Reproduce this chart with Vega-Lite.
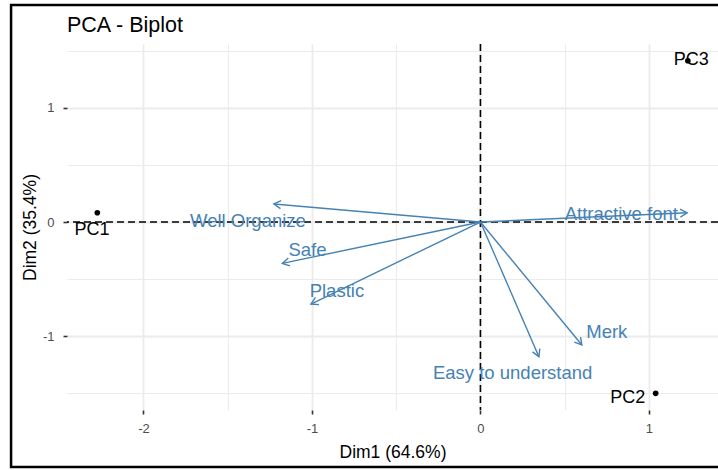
{
  "$schema": "https://vega.github.io/schema/vega-lite/v6.json",
  "width": 651,
  "height": 366,
  "autosize": "none",
  "padding": {"left": 67, "top": 44, "right": 0, "bottom": 60},
  "background": "white",
  "title": {
    "text": "PCA - Biplot",
    "anchor": "start",
    "frame": "group",
    "font": "Liberation Sans",
    "fontSize": 21.5,
    "fontWeight": "normal",
    "color": "black",
    "offset": -33
  },
  "config": {
    "view": {"stroke": null},
    "font": "Liberation Sans"
  },
  "datasets": {
    "vars": [
      {"name": "Well Organize", "x": -1.226, "y": 0.158, "lx": -1.380, "ly": 0.009},
      {"name": "Attractive font", "x": 1.227, "y": 0.081, "lx": 0.836, "ly": 0.070},
      {"name": "Safe", "x": -1.176, "y": -0.362, "lx": -1.027, "ly": -0.245},
      {"name": "Plastic", "x": -1.006, "y": -0.718, "lx": -0.852, "ly": -0.604},
      {"name": "Merk", "x": 0.602, "y": -1.077, "lx": 0.750, "ly": -0.963},
      {"name": "Easy to understand", "x": 0.347, "y": -1.179, "lx": 0.191, "ly": -1.318}
    ],
    "inds": [
      {"name": "PC1", "x": -2.274, "y": 0.081, "lx": -2.306, "ly": -0.070},
      {"name": "PC2", "x": 1.040, "y": -1.500, "lx": 0.874, "ly": -1.544},
      {"name": "PC3", "x": 1.231, "y": 1.412, "lx": 1.251, "ly": 1.418}
    ]
  },
  "layer": [
    {
      "data": {"name": "inds"},
      "mark": {"type": "point", "filled": true, "color": "black", "size": 32, "opacity": 1},
      "encoding": {
        "x": {
          "field": "x", "type": "quantitative",
          "scale": {"domain": [-2.454, 1.41], "nice": false, "zero": false},
          "axis": {
            "title": "Dim1 (64.6%)",
            "values": [-2, -1.5, -1, -0.5, 0, 0.5, 1],
            "domain": false,
            "grid": true,
            "gridColor": "#EBEBEB",
            "gridWidth": {"condition": {"test": "datum.value % 1 !== 0", "value": 1}, "value": 1.8},
            "tickColor": "#333333",
            "tickWidth": 1.6,
            "tickSize": 4,
            "tickOpacity": {"condition": {"test": "datum.value % 1 !== 0", "value": 0}, "value": 1},
            "labelExpr": "datum.value % 1 === 0 ? '' + datum.value : ''",
            "labelFont": "Liberation Sans",
            "labelFontSize": 13,
            "labelColor": "#4D4D4D",
            "labelPadding": 8,
            "titleFont": "Liberation Sans",
            "titleFontSize": 17.5,
            "titleFontWeight": "normal",
            "titleColor": "black",
            "titlePadding": 8
          }
        },
        "y": {
          "field": "y", "type": "quantitative",
          "scale": {"domain": [-1.646, 1.559], "nice": false, "zero": false},
          "axis": {
            "title": "Dim2 (35.4%)",
            "values": [-1.5, -1, -0.5, 0, 0.5, 1, 1.5],
            "domain": false,
            "grid": true,
            "gridColor": "#EBEBEB",
            "gridWidth": {"condition": {"test": "datum.value % 1 !== 0", "value": 1}, "value": 1.8},
            "tickColor": "#333333",
            "tickWidth": 1.6,
            "tickSize": 4,
            "tickOpacity": {"condition": {"test": "datum.value % 1 !== 0", "value": 0}, "value": 1},
            "labelExpr": "datum.value % 1 === 0 ? '' + datum.value : ''",
            "labelFont": "Liberation Sans",
            "labelFontSize": 13,
            "labelColor": "#4D4D4D",
            "labelPadding": 9,
            "titleFont": "Liberation Sans",
            "titleFontSize": 17.5,
            "titleFontWeight": "normal",
            "titleColor": "black",
            "titlePadding": 3
          }
        }
      }
    },
    {
      "data": {"values": [{"v": 0}]},
      "mark": {"type": "rule", "color": "black", "strokeWidth": 1.6, "strokeDash": [7, 4]},
      "encoding": {
        "x": {"field": "v", "type": "quantitative"}
      }
    },
    {
      "data": {"values": [{"v": 0}]},
      "mark": {"type": "rule", "color": "black", "strokeWidth": 1.6, "strokeDash": [7, 4]},
      "encoding": {
        "y": {"field": "v", "type": "quantitative"}
      }
    },
    {
      "data": {"name": "vars"},
      "mark": {"type": "rule", "color": "#4682B4", "strokeWidth": 1.4},
      "encoding": {
        "x": {"field": "x", "type": "quantitative"},
        "y": {"field": "y", "type": "quantitative"},
        "x2": {"datum": 0},
        "y2": {"datum": 0}
      }
    },
    {
      "data": {"name": "vars"},
      "transform": [
        {"calculate": "atan2(datum.x * 168.5, datum.y * 114.2) * 180 / PI", "as": "ang"}
      ],
      "mark": {"type": "point", "shape": "M-0.5,0.87L0,0L0.5,0.87", "filled": false, "color": "#4682B4", "strokeWidth": 1.4, "size": 256, "opacity": 1},
      "encoding": {
        "x": {"field": "x", "type": "quantitative"},
        "y": {"field": "y", "type": "quantitative"},
        "angle": {"field": "ang", "type": "quantitative", "scale": null}
      }
    },
    {
      "data": {"name": "vars"},
      "mark": {"type": "text", "color": "#4682B4", "fontSize": 18.5, "font": "Liberation Sans", "align": "center", "baseline": "middle"},
      "encoding": {
        "x": {"field": "lx", "type": "quantitative"},
        "y": {"field": "ly", "type": "quantitative"},
        "text": {"field": "name"}
      }
    },
    {
      "data": {"name": "inds"},
      "mark": {"type": "text", "color": "black", "fontSize": 18, "font": "Liberation Sans", "align": "center", "baseline": "middle"},
      "encoding": {
        "x": {"field": "lx", "type": "quantitative"},
        "y": {"field": "ly", "type": "quantitative"},
        "text": {"field": "name"}
      }
    },
    {
      "data": {"values": [{"a": -2.786, "b": 1.7, "c": 1.9, "d": -2.145}]},
      "mark": {"type": "rect", "filled": false, "stroke": "black", "strokeWidth": 2.5, "clip": false},
      "encoding": {
        "x": {"field": "a", "type": "quantitative"},
        "x2": {"field": "b"},
        "y": {"field": "c", "type": "quantitative"},
        "y2": {"field": "d"}
      }
    }
  ]
}
